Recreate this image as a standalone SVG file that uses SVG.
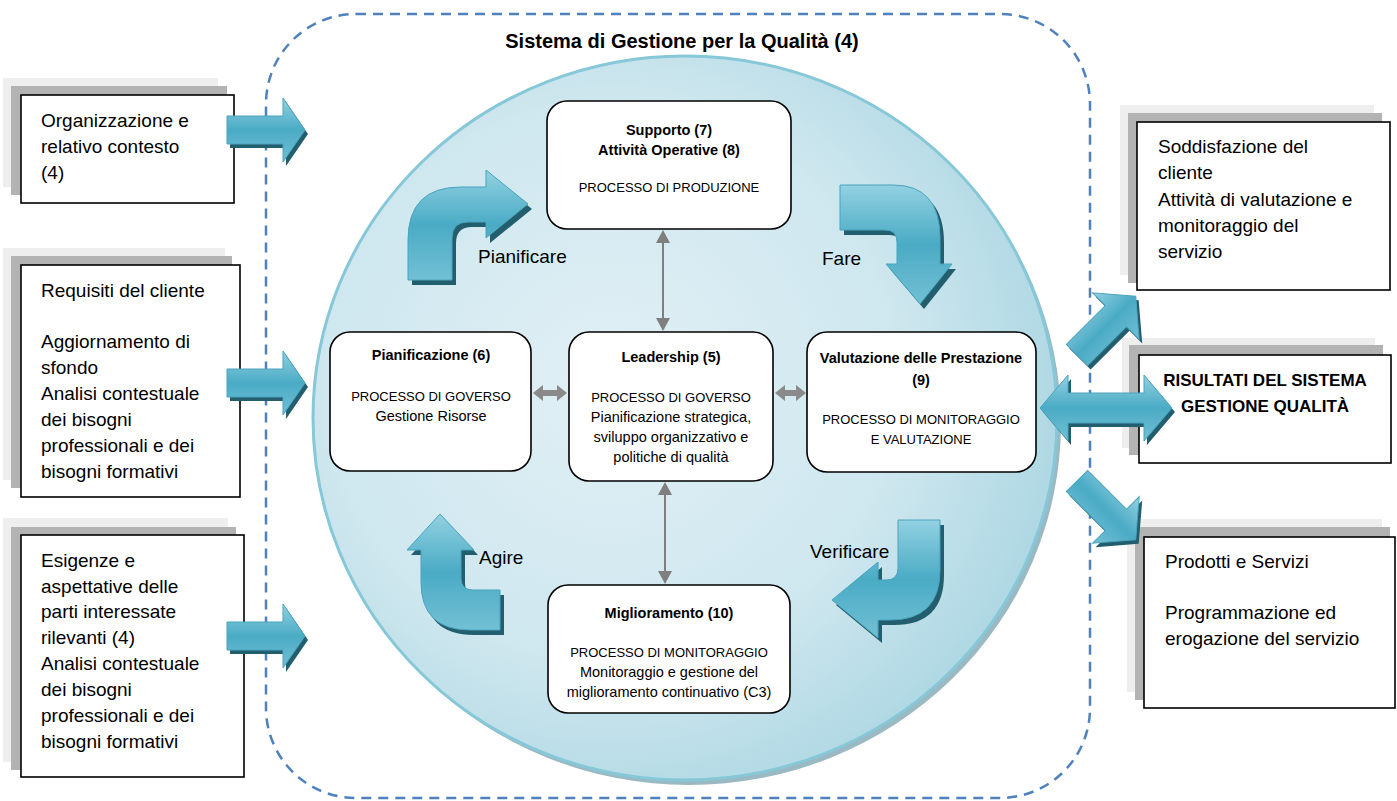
<svg xmlns="http://www.w3.org/2000/svg" xmlns:xlink="http://www.w3.org/1999/xlink" width="1397" height="801" viewBox="0 0 1397 801">
<style>
  text { font-family: "Liberation Sans", Arial, sans-serif; fill: #000; }
  .big { font-size: 19px; }
  .mid { font-size: 14.5px; }
  .cap { font-size: 13px; }
  .bold { font-weight: bold; }
  .c { text-anchor: middle; }
  .sh1 { fill: #eeeeee; }
  .sh2 { fill: #b3b3b3; }
  .box { fill: #ffffff; stroke: #000; stroke-width: 1.6; }
  .rbox { fill: #ffffff; stroke: #000; stroke-width: 1.6; }
  .barr { fill: url(#arrGrad); stroke: #4aa3bd; stroke-width: 1; }
  .bsh { fill: #235e6e; }
  .gline { stroke: #7f7f7f; stroke-width: 2; fill: none; }
  .ghead { fill: #7f7f7f; }
</style>
<defs>
  <radialGradient id="circGrad" cx="0.4" cy="0.45" r="0.7">
    <stop offset="0" stop-color="#e1f0f5"/>
    <stop offset="0.55" stop-color="#cfe7ef"/>
    <stop offset="1" stop-color="#a2d2df"/>
  </radialGradient>
  <linearGradient id="arrGrad" x1="0" y1="0" x2="0" y2="1">
    <stop offset="0" stop-color="#92d1e1"/>
    <stop offset="0.5" stop-color="#4aabc5"/>
    <stop offset="1" stop-color="#72c0d4"/>
  </linearGradient>
  <path id="pArrow" d="M0 -15 L55 -15 L55 -33 L83 0 L55 33 L55 15 L0 15 Z"/>
</defs>

<!-- dashed system boundary -->
<rect x="266" y="14" width="824" height="784" rx="90" ry="90" fill="none" stroke="#4f81bd" stroke-width="2.5" stroke-dasharray="10 7"/>

<!-- big circle -->
<ellipse cx="689" cy="423" rx="372" ry="362" fill="#9ab9c3"/>
<ellipse cx="685" cy="418" rx="372" ry="362" fill="url(#circGrad)" stroke="#86c7d8" stroke-width="3"/>

<text x="682" y="48" class="bold c" style="font-size:20px">Sistema di Gestione per la Qualità (4)</text>

<!-- left input boxes -->
<g id="in1">
  <rect x="3" y="78" width="215" height="109" class="sh1"/>
  <rect x="11" y="86" width="216" height="109" class="sh2"/>
  <rect x="21" y="95" width="213" height="108" class="box"/>
  <text class="big" x="41" y="127">Organizzazione e</text>
  <text class="big" x="41" y="153">relativo contesto</text>
  <text class="big" x="41" y="179">(4)</text>
</g>
<g id="in2">
  <rect x="3" y="248" width="222" height="232" class="sh1"/>
  <rect x="11" y="256" width="221" height="232" class="sh2"/>
  <rect x="21" y="265" width="219" height="232" class="box"/>
  <text class="big" x="41" y="297">Requisiti del cliente</text>
  <text class="big" x="41" y="348">Aggiornamento di</text>
  <text class="big" x="41" y="374">sfondo</text>
  <text class="big" x="41" y="400">Analisi contestuale</text>
  <text class="big" x="41" y="426">dei bisogni</text>
  <text class="big" x="41" y="452">professionali e dei</text>
  <text class="big" x="41" y="478">bisogni formativi</text>
</g>
<g id="in3">
  <rect x="3" y="518" width="225" height="244" class="sh1"/>
  <rect x="11" y="527" width="225" height="243" class="sh2"/>
  <rect x="21" y="535" width="223" height="242" class="box"/>
  <text class="big" x="41" y="567">Esigenze e</text>
  <text class="big" x="41" y="593">aspettative delle</text>
  <text class="big" x="41" y="618">parti interessate</text>
  <text class="big" x="41" y="644">rilevanti (4)</text>
  <text class="big" x="41" y="670">Analisi contestuale</text>
  <text class="big" x="41" y="696">dei bisogni</text>
  <text class="big" x="41" y="722">professionali e dei</text>
  <text class="big" x="41" y="748">bisogni formativi</text>
</g>

<!-- right output boxes -->
<g id="out1">
  <rect x="1120" y="105" width="254" height="170" class="sh1"/>
  <rect x="1128" y="113" width="254" height="170" class="sh2"/>
  <rect x="1137" y="122" width="253" height="168" class="box"/>
  <text class="big" x="1158" y="153">Soddisfazione del</text>
  <text class="big" x="1158" y="179">cliente</text>
  <text class="big" x="1158" y="206">Attività di valutazione e</text>
  <text class="big" x="1158" y="232">monitoraggio del</text>
  <text class="big" x="1158" y="258">servizio</text>
</g>
<g id="out2">
  <rect x="1122" y="338" width="253" height="110" class="sh1"/>
  <rect x="1129" y="345" width="254" height="110" class="sh2"/>
  <rect x="1139" y="355" width="252" height="108" class="box"/>
  <text class="bold c" style="font-size:17px" x="1265" y="386">RISULTATI DEL SISTEMA</text>
  <text class="bold c" style="font-size:17px" x="1265" y="412">GESTIONE QUALITÀ</text>
</g>
<g id="out3">
  <rect x="1127" y="519" width="255" height="173" class="sh1"/>
  <rect x="1135" y="527" width="255" height="173" class="sh2"/>
  <rect x="1144" y="537" width="251" height="171" class="box"/>
  <text class="big" x="1165" y="568">Prodotti e Servizi</text>
  <text class="big" x="1165" y="619">Programmazione ed</text>
  <text class="big" x="1165" y="645">erogazione del servizio</text>
</g>

<!-- inner process boxes -->
<g id="supporto">
  <rect x="547" y="101" width="244" height="128" rx="20" class="rbox"/>
  <text class="mid bold c" x="669" y="135">Supporto (7)</text>
  <text class="mid bold c" x="669" y="155">Attività Operative (8)</text>
  <text class="cap c" x="669" y="192">PROCESSO DI PRODUZIONE</text>
</g>
<g id="pianificazione">
  <rect x="330" y="332" width="201" height="139" rx="20" class="rbox"/>
  <text class="mid bold c" x="431" y="360">Pianificazione (6)</text>
  <text class="cap c" x="431" y="401">PROCESSO DI GOVERSO</text>
  <text class="mid c" x="431" y="421">Gestione Risorse</text>
</g>
<g id="leadership">
  <rect x="569" y="332" width="204" height="149" rx="20" class="rbox"/>
  <text class="mid bold c" x="671" y="362">Leadership (5)</text>
  <text class="cap c" x="671" y="402">PROCESSO DI GOVERSO</text>
  <text class="mid c" x="671" y="422">Pianificazione strategica,</text>
  <text class="mid c" x="671" y="442">sviluppo organizzativo e</text>
  <text class="mid c" x="671" y="462">politiche di qualità</text>
</g>
<g id="valutazione">
  <rect x="807" y="332" width="229" height="140" rx="20" class="rbox"/>
  <text class="mid bold c" x="921" y="363">Valutazione delle Prestazione</text>
  <text class="mid bold c" x="921" y="385">(9)</text>
  <text class="cap c" x="921" y="424">PROCESSO DI MONITORAGGIO</text>
  <text class="cap c" x="921" y="444">E VALUTAZIONE</text>
</g>
<g id="miglioramento">
  <rect x="548" y="585" width="242" height="128" rx="20" class="rbox"/>
  <text class="mid bold c" x="669" y="618">Miglioramento (10)</text>
  <text class="cap c" x="669" y="657">PROCESSO DI MONITORAGGIO</text>
  <text class="mid c" x="669" y="677">Monitoraggio e gestione del</text>
  <text class="mid c" x="669" y="697">miglioramento continuativo (C3)</text>
</g>

<!-- cycle labels -->
<text class="big" x="478" y="263">Pianificare</text>
<text class="big" x="822" y="265">Fare</text>
<text class="big" x="479" y="564">Agire</text>
<text class="big" x="810" y="558">Verificare</text>

<g id="connectors">
  <!-- gray vertical double arrows -->
  <line x1="663" y1="242" x2="663" y2="319" class="gline"/>
  <polygon points="663,230 656,243 670,243" class="ghead"/>
  <polygon points="663,331 656,318 670,318" class="ghead"/>
  <line x1="665" y1="494" x2="665" y2="572" class="gline"/>
  <polygon points="665,482 658,495 672,495" class="ghead"/>
  <polygon points="665,584 658,571 672,571" class="ghead"/>
  <!-- gray horizontal short double arrows -->
  <polygon points="533,393 543,385 543,390 557,390 557,385 567,393 557,401 557,396 543,396 543,401" fill="#8a8a8a"/>
  <polygon points="775,393 785,385 785,390 796,390 796,385 806,393 796,401 796,396 785,396 785,401" fill="#8a8a8a"/>

  <!-- PDCA curved arrows -->
  <g id="arr-pianificare">
    <path class="bsh" transform="translate(4,5)" d="M408 280 L408 240 Q408 187 461 187 L486 187 L486 170 L528 204 L486 238 L486 222 L468 222 Q452 222 452 238 L452 280 Z"/>
    <path class="barr" d="M408 280 L408 240 Q408 187 461 187 L486 187 L486 170 L528 204 L486 238 L486 222 L468 222 Q452 222 452 238 L452 280 Z"/>
  </g>
  <g id="arr-fare">
    <path class="bsh" transform="translate(4,5)" d="M840 185 L893 185 Q940 185 940 238 L940 264 L952 264 L920 304 L886 264 L897 264 L897 242 Q897 230 885 230 L840 230 Z"/>
    <path class="barr" d="M840 185 L893 185 Q940 185 940 238 L940 264 L952 264 L920 304 L886 264 L897 264 L897 242 Q897 230 885 230 L840 230 Z"/>
  </g>
  <g id="arr-verificare">
    <path class="bsh" transform="translate(4,5)" d="M898 520 L940 520 L940 570 Q940 620 890 620 L878 620 L878 638 L832 600 L878 562 L878 580 L886 580 Q898 580 898 568 Z"/>
    <path class="barr" d="M898 520 L940 520 L940 570 Q940 620 890 620 L878 620 L878 638 L832 600 L878 562 L878 580 L886 580 Q898 580 898 568 Z"/>
  </g>
  <g id="arr-agire">
    <path class="bsh" transform="translate(4,5)" d="M407 550 L440 514 L474 550 L461 550 L461 578 Q461 590 473 590 L500 590 L500 630 L470 630 Q421 630 421 582 L421 550 Z"/>
    <path class="barr" d="M407 550 L440 514 L474 550 L461 550 L461 578 Q461 590 473 590 L500 590 L500 630 L470 630 Q421 630 421 582 L421 550 Z"/>
  </g>

  <!-- input arrows -->
  <g id="arr-in1">
    <path class="bsh" transform="translate(3,4)" d="M227 116 L283 116 L283 98 L305 130 L283 162 L283 144 L227 144 Z"/>
    <path class="barr" d="M227 116 L283 116 L283 98 L305 130 L283 162 L283 144 L227 144 Z"/>
  </g>
  <g id="arr-in2">
    <path class="bsh" transform="translate(3,4)" d="M227 369 L283 369 L283 351 L305 383 L283 415 L283 397 L227 397 Z"/>
    <path class="barr" d="M227 369 L283 369 L283 351 L305 383 L283 415 L283 397 L227 397 Z"/>
  </g>
  <g id="arr-in3">
    <path class="bsh" transform="translate(3,4)" d="M227 622 L283 622 L283 604 L305 636 L283 668 L283 650 L227 650 Z"/>
    <path class="barr" d="M227 622 L283 622 L283 604 L305 636 L283 668 L283 650 L227 650 Z"/>
  </g>

  <!-- output arrows -->
  <g id="arr-out1">
    <use xlink:href="#pArrow" href="#pArrow" class="bsh" transform="translate(1080,359) rotate(-45)"/>
    <use xlink:href="#pArrow" href="#pArrow" class="barr" transform="translate(1077,355) rotate(-45)"/>
  </g>
  <g id="arr-out2">
    <path class="bsh" transform="translate(3,4)" d="M1040 408 L1068 375 L1068 393 L1144 393 L1144 375 L1172 408 L1144 441 L1144 423 L1068 423 L1068 441 Z"/>
    <path class="barr" d="M1040 408 L1068 375 L1068 393 L1144 393 L1144 375 L1172 408 L1144 441 L1144 423 L1068 423 L1068 441 Z"/>
  </g>
  <g id="arr-out3">
    <use xlink:href="#pArrow" href="#pArrow" class="bsh" transform="translate(1080,485) rotate(45)"/>
    <use xlink:href="#pArrow" href="#pArrow" class="barr" transform="translate(1077,481) rotate(45)"/>
  </g>
</g>
</svg>
